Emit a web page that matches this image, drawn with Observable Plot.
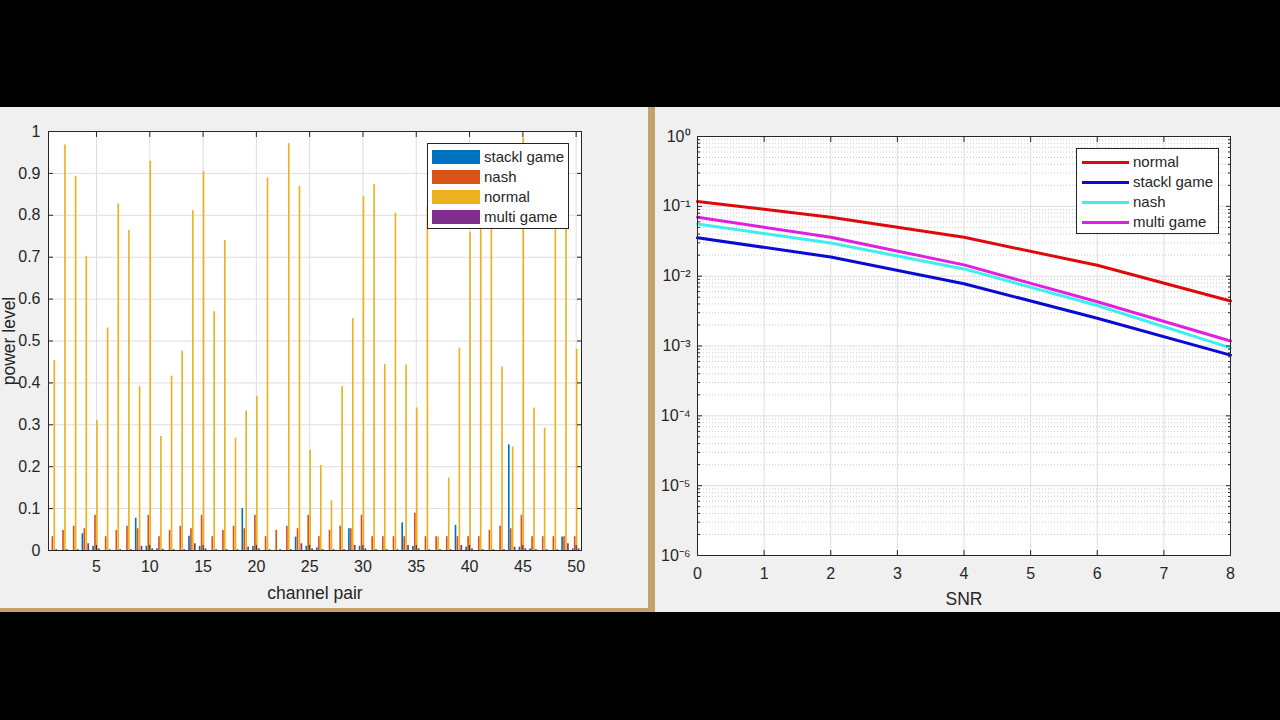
<!DOCTYPE html>
<html>
<head>
<meta charset="utf-8">
<script src="https://cdn.jsdelivr.net/npm/d3@7"></script>
<script src="https://cdn.jsdelivr.net/npm/@observablehq/plot@0.6"></script>
<style>
  html, body { margin: 0; padding: 0; background: #000; width: 1280px; height: 720px; overflow: hidden;
    font-family: "Liberation Sans", Arial, Helvetica, sans-serif; }
  #left { position: absolute; left: 0; top: 107px; width: 648px; height: 501px; background: #f0f0f0; }
  #vsep { position: absolute; left: 648px; top: 107px; width: 7px; height: 505px; background: #c4a26e; }
  #hsep { position: absolute; left: 0; top: 608px; width: 650px; height: 4px; background: #c4a26e; }
  #right { position: absolute; left: 655px; top: 107px; width: 625px; height: 505px; background: #f0f0f0; }
  #left svg, #right svg { position: absolute; left: 0; top: 0; }
  .legend { position: absolute; background: #fff; border: 1px solid #262626; box-sizing: border-box;
    font-size: 15px; color: #262626; }
  .legend .row { position: absolute; left: 0; right: 0; height: 20px; }
  .legend .sw { position: absolute; }
  .legend .lb { position: absolute; top: 1px; line-height: 18px; white-space: nowrap; }
</style>
</head>
<body>
<div id="left"></div>
<div id="vsep"></div>
<div id="hsep"></div>
<div id="right"></div>
<script>
// ---------- Left chart data (grouped bars) ----------
const channels = [1,2,3,4,5,6,7,8,9,10,11,12,13,14,15,16,17,18,19,20,21,22,23,24,25,
                  26,27,28,29,30,31,32,33,34,35,36,37,38,39,40,41,42,43,44,45,46,47,48,49,50];
const barSeries = ["stackl game", "nash", "normal", "multi game"];
const barColors = ["#0072BD", "#D95319", "#EDB120", "#7E2F8E"];
const stacklPower = [0,0,0,0.040,0.010, 0,0,0,0.077,0.010, 0.004,0,0,0.034,0.010,
                     0,0,0,0.100,0.010, 0,0,0,0.032,0.010, 0.006,0,0,0.052,0.010,
                     0,0,0,0.066,0.010, 0,0,0,0.060,0.008, 0,0,0,0.252,0.008,
                     0.004,0,0,0.032,0.004];
const nashPower = [0.033,0.048,0.058,0.052,0.084, 0.033,0.048,0.058,0.052,0.084,
                   0.033,0.048,0.058,0.052,0.084, 0.033,0.048,0.058,0.052,0.084,
                   0.033,0.048,0.058,0.052,0.084, 0.033,0.048,0.058,0.052,0.084,
                   0.033,0.033,0.033,0.033,0.089, 0.033,0.033,0.033,0.033,0.033,
                   0.033,0.048,0.058,0.052,0.084, 0.033,0.033,0.033,0.033,0.033];
const normalPower = [0.453,0.968,0.893,0.702,0.310, 0.531,0.827,0.764,0.391,0.929,
                     0.272,0.416,0.476,0.811,0.905, 0.570,0.740,0.268,0.333,0.368,
                     0.889,0.000,0.971,0.869,0.239, 0.203,0.119,0.391,0.554,0.845,
                     0.873,0.444,0.805,0.443,0.340, 0.820,0.032,0.173,0.483,0.760,
                     0.790,0.800,0.438,0.247,0.985, 0.340,0.292,0.860,0.780,0.480];
const multiPower = [0.002,0.002,0.002,0.016,0.004, 0.002,0.002,0.002,0.010,0.004,
                    0.003,0.002,0.002,0.016,0.004, 0.002,0.002,0.002,0.008,0.004,
                    0.002,0.002,0.002,0.016,0.004, 0.002,0.002,0.002,0.012,0.004,
                    0.002,0.002,0.002,0.012,0.004, 0.002,0.002,0.002,0.012,0.004,
                    0.002,0.002,0.002,0.008,0.004, 0.002,0.002,0.002,0.016,0.004];
const channelTicks = [5,10,15,20,25,30,35,40,45,50];
const powerTicks = [0,0.1,0.2,0.3,0.4,0.5,0.6,0.7,0.8,0.9,1];

// ---------- Right chart data (log lines) ----------
const snr = [0, 2, 4, 6, 8];
const lineSeries = ["normal", "stackl game", "nash", "multi game"];
const lineColors = ["#dd0a0a", "#0a0ad2", "#3ceeee", "#e21ee2"];
const normalBER = [0.117, 0.070, 0.036, 0.0143, 0.0044];
const stacklBER = [0.0355, 0.0188, 0.0078, 0.0025, 0.00074];
const nashBER   = [0.056, 0.0298, 0.0127, 0.0038, 0.00094];
const multiBER  = [0.070, 0.036, 0.0145, 0.0043, 0.00118];
const snrTicks = [0,1,2,3,4,5,6,7,8];
const decadeTicks = [1e-6,1e-5,1e-4,1e-3,1e-2,1e-1,1];

const font = '"Liberation Sans", Arial, Helvetica, sans-serif';
const axisColor = "#262626";

// ---------- Left chart ----------
const barValues = [stacklPower, nashPower, normalPower, multiPower];
const barRows = [];
barValues.forEach((vals, i) => vals.forEach((v, j) => barRows.push({ch: channels[j], v, s: barSeries[i], i})));
const groupWidth = 4 / 5.5;           // MATLAB grouped bar geometry
const step = groupWidth / 4;
const barW = step * 0.85;
const offset = d => (d.i - 1.5) * step;

const left = Plot.plot({
  width: 648, height: 501,
  marginLeft: 48, marginRight: 67, marginTop: 24, marginBottom: 58,
  style: {background: "transparent", fontFamily: font, fontSize: "16px", color: axisColor, overflow: "visible"},
  x: {domain: [0.5, 50.5], label: null},
  y: {domain: [0, 1], label: null},
  color: {domain: barSeries, range: barColors},
  marks: [
    Plot.frame({fill: "white", stroke: null}),
    Plot.gridX(channelTicks, {stroke: "#dedede", strokeOpacity: 1}),
    Plot.gridY(powerTicks, {stroke: "#dedede", strokeOpacity: 1}),
    Plot.rectY(barRows, {
      x1: d => d.ch + offset(d) - barW / 2,
      x2: d => d.ch + offset(d) + barW / 2,
      y1: 0, y2: "v", fill: "s"
    }),
    Plot.axisX(channelTicks, {anchor: "bottom", tickSize: -5, tickPadding: 15, label: null, stroke: axisColor}),
    Plot.axisX(channelTicks, {anchor: "top", tickSize: -5, tickFormat: () => null, label: null}),
    Plot.axisX([], {anchor: "bottom", tickSize: 0, label: "channel pair", labelAnchor: "center",
      labelArrow: "none", labelOffset: 48, fontSize: 17.5}),
    Plot.axisY(powerTicks, {anchor: "left", tickSize: -5, tickPadding: 13, label: null, tickFormat: d => String(d)}),
    Plot.axisY(powerTicks, {anchor: "right", tickSize: -5, tickFormat: () => null, label: null}),
    Plot.axisY([], {anchor: "left", tickSize: 0, label: "power level", labelAnchor: "center",
      labelArrow: "none", labelOffset: 46, fontSize: 17.5}),
    Plot.frame({stroke: axisColor, strokeWidth: 1})
  ]
});
document.getElementById("left").appendChild(left);

// ---------- Right chart ----------
const berValues = [normalBER, stacklBER, nashBER, multiBER];
const lineRows = [];
berValues.forEach((vals, i) => vals.forEach((v, j) => lineRows.push({snr: snr[j], ber: v, s: lineSeries[i]})));
const minorTicks = [];
decadeTicks.slice(0, -1).forEach(p => { for (let m = 2; m <= 9; m++) minorTicks.push(p * m); });
const sup = {"-": "\u207B", "0": "\u2070", "1": "\u00B9", "2": "\u00B2", "3": "\u00B3", "4": "\u2074",
             "5": "\u2075", "6": "\u2076", "7": "\u2077", "8": "\u2078", "9": "\u2079"};
const powFmt = d => "10" + String(Math.round(Math.log10(d))).split("").map(c => sup[c]).join("");

const right = Plot.plot({
  width: 625, height: 505,
  marginLeft: 42, marginRight: 50, marginTop: 29, marginBottom: 57,
  style: {background: "transparent", fontFamily: font, fontSize: "16px", color: axisColor, overflow: "visible"},
  x: {domain: [0, 8], label: null},
  y: {type: "log", domain: [1e-6, 1], label: null},
  color: {domain: lineSeries, range: lineColors},
  marks: [
    Plot.frame({fill: "white", stroke: null}),
    Plot.gridY(minorTicks, {stroke: "#a0a0a0", strokeOpacity: 0.55, strokeDasharray: "1,2"}),
    Plot.gridX(snrTicks, {stroke: "#dedede", strokeOpacity: 1}),
    Plot.gridY(decadeTicks, {stroke: "#dedede", strokeOpacity: 1}),
    Plot.line(lineRows, {x: "snr", y: "ber", z: "s", stroke: "s", strokeWidth: 3}),
    Plot.axisX(snrTicks, {anchor: "bottom", tickSize: -5, tickPadding: 17, label: null}),
    Plot.axisX(snrTicks, {anchor: "top", tickSize: -5, tickFormat: () => null, label: null}),
    Plot.axisX([], {anchor: "bottom", tickSize: 0, label: "SNR", labelAnchor: "center",
      labelArrow: "none", labelOffset: 49, fontSize: 17.5}),
    Plot.axisY(decadeTicks, {anchor: "left", tickSize: -5, tickPadding: 12, label: null, tickFormat: powFmt}),
    Plot.axisY(minorTicks, {anchor: "left", tickSize: -3, tickFormat: () => null, label: null}),
    Plot.axisY(decadeTicks, {anchor: "right", tickSize: -5, tickFormat: () => null, label: null}),
    Plot.axisY(minorTicks, {anchor: "right", tickSize: -3, tickFormat: () => null, label: null}),
    Plot.frame({stroke: axisColor, strokeWidth: 1})
  ]
});
document.getElementById("right").appendChild(right);

// ---------- Legends (HTML overlays inside the axes) ----------
function legend(parent, names, colors, box, kind) {
  const el = document.createElement("div");
  el.className = "legend";
  Object.assign(el.style, {left: box.left + "px", top: box.top + "px", width: box.width + "px", height: box.height + "px"});
  names.forEach((name, i) => {
    const row = document.createElement("div");
    row.className = "row";
    row.style.top = (3 + i * 20) + "px";
    const sw = document.createElement("div");
    sw.className = "sw";
    if (kind === "bar") Object.assign(sw.style, {left: "4px", top: "3px", width: "48px", height: "14px", background: colors[i]});
    else Object.assign(sw.style, {left: "5px", top: "8.5px", width: "47px", height: "3px", background: colors[i]});
    const lb = document.createElement("div");
    lb.className = "lb";
    lb.style.left = "56px";
    lb.textContent = name;
    row.appendChild(sw); row.appendChild(lb);
    el.appendChild(row);
  });
  parent.appendChild(el);
}
legend(document.getElementById("left"), barSeries, barColors, {left: 427, top: 36, width: 142, height: 86}, "bar");
legend(document.getElementById("right"), lineSeries, lineColors, {left: 421, top: 41, width: 143, height: 86}, "line");
</script>
</body>
</html>
